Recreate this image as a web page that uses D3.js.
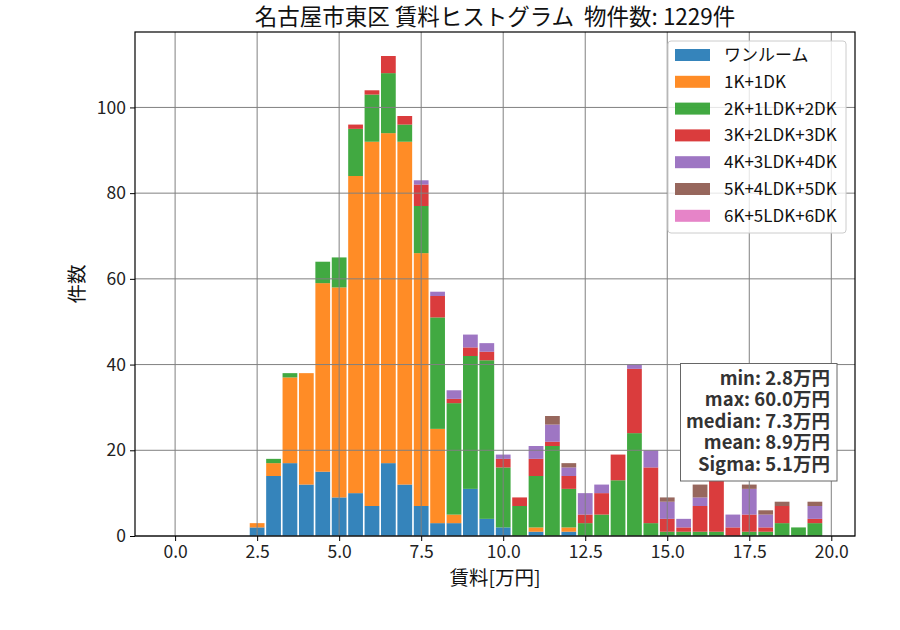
<!DOCTYPE html>
<html>
<head>
<meta charset="utf-8">
<script src="https://cdn.jsdelivr.net/npm/d3@7"></script>
<style>
  body { margin: 0; background: #fff; }
  svg { font-family: "Noto Sans CJK JP", "Noto Sans", sans-serif; }
</style>
</head>
<body>
<div id="chart"></div>
<script>
// bin start [万円], bars are drawn centred on it
const bins = [0.0, 0.5, 1.0, 1.5, 2.0, 2.5, 3.0, 3.5, 4.0, 4.5,
              5.0, 5.5, 6.0, 6.5, 7.0, 7.5, 8.0, 8.5, 9.0, 9.5,
              10.0, 10.5, 11.0, 11.5, 12.0, 12.5, 13.0, 13.5, 14.0, 14.5,
              15.0, 15.5, 16.0, 16.5, 17.0, 17.5, 18.0, 18.5, 19.0, 19.5];

const layouts = ["ワンルーム", "1K+1DK", "2K+1LDK+2DK", "3K+2LDK+3DK", "4K+3LDK+4DK", "5K+4LDK+5DK", "6K+5LDK+6DK"];

const oneRoom = [0, 0, 0, 0, 0, 2, 14, 17, 12, 15, 9, 10, 7, 17, 12, 7, 3, 3, 11, 4,
                 2, 0, 1, 0, 1, 0, 0, 0, 0, 0, 0, 0, 0, 0, 0, 0, 0, 0, 0, 0];
const k1 = [0, 0, 0, 0, 0, 1, 3, 20, 26, 44, 49, 74, 85, 77, 80, 59, 22, 2, 0, 0,
            0, 0, 1, 0, 1, 0, 0, 0, 0, 0, 0, 0, 0, 0, 0, 0, 0, 0, 0, 0];
const k2 = [0, 0, 0, 0, 0, 0, 1, 1, 0, 5, 7, 11, 11, 14, 4, 11, 26, 26, 31, 37,
            14, 7, 12, 21, 9, 3, 5, 13, 24, 3, 1, 1, 1, 1, 0, 1, 1, 3, 2, 3];
const k3 = [0, 0, 0, 0, 0, 0, 0, 0, 0, 0, 0, 1, 1, 4, 2, 5, 5, 1, 2, 2,
            2, 2, 4, 1, 3, 2, 5, 6, 15, 13, 3, 1, 6, 16, 2, 4, 1, 4, 0, 1];
const k4 = [0, 0, 0, 0, 0, 0, 0, 0, 0, 0, 0, 0, 0, 0, 0, 1, 1, 2, 3, 2,
            1, 0, 3, 4, 2, 5, 2, 0, 1, 4, 4, 2, 2, 0, 3, 6, 3, 0, 0, 3];
const k5 = [0, 0, 0, 0, 0, 0, 0, 0, 0, 0, 0, 0, 0, 0, 0, 0, 0, 0, 0, 0,
            0, 0, 0, 2, 1, 0, 0, 0, 0, 0, 1, 0, 3, 0, 0, 1, 1, 1, 0, 1];
const k6 = [0, 0, 0, 0, 0, 0, 0, 0, 0, 0, 0, 0, 0, 0, 0, 0, 0, 0, 0, 0,
            0, 0, 0, 0, 0, 0, 0, 0, 0, 0, 0, 0, 0, 0, 0, 0, 0, 0, 0, 0];

const xTicks = [0, 2.5, 5, 7.5, 10, 12.5, 15, 17.5, 20];
const yTicks = [0, 20, 40, 60, 80, 100];
const statsLines = ["min: 2.8万円", "max: 60.0万円", "median: 7.3万円", "mean: 8.9万円", "Sigma: 5.1万円"];

const colors = ["#1f77b4", "#ff7f0e", "#2ca02c", "#d62728", "#9467bd", "#8c564b", "#e377c2"];

const W = 900, H = 630;
const margin = { top: 32, right: 45, bottom: 94, left: 135 };

const svg = d3.select("#chart").append("svg")
  .attr("width", W).attr("height", H);

const x = d3.scaleLinear().domain([-1.2225, 20.7225]).range([margin.left, W - margin.right]);
const y = d3.scaleLinear().domain([0, 117.6]).range([H - margin.bottom, margin.top]);

// build rows for stacking
const series = [oneRoom, k1, k2, k3, k4, k5, k6];
const rows = bins.map((b, i) => {
  const r = { bin: b };
  layouts.forEach((l, j) => r[l] = series[j][i]);
  return r;
});
const stacked = d3.stack().keys(layouts)(rows);

const barW = 0.45; // rwidth 0.9 of 0.5 bins

svg.append("g")
  .selectAll("g")
  .data(stacked)
  .enter().append("g")
  .attr("fill", (d, i) => colors[i])
  .attr("fill-opacity", 0.9)
  .selectAll("rect")
  .data(d => d.filter(s => s[1] > s[0]))
  .enter().append("rect")
  .attr("x", d => x(d.data.bin - barW / 2))
  .attr("width", d => x(d.data.bin + barW / 2) - x(d.data.bin - barW / 2))
  .attr("y", d => y(d[1]))
  .attr("height", d => y(d[0]) - y(d[1]));

// grid (on top of bars like matplotlib default)
const grid = svg.append("g").attr("stroke", "#808080").attr("stroke-width", 1);
grid.selectAll(".gx").data(xTicks).enter().append("line")
  .attr("x1", d => x(d)).attr("x2", d => x(d))
  .attr("y1", margin.top).attr("y2", H - margin.bottom);
grid.selectAll(".gy").data(yTicks).enter().append("line")
  .attr("x1", margin.left).attr("x2", W - margin.right)
  .attr("y1", d => y(d)).attr("y2", d => y(d));

// axes
const xAxis = svg.append("g")
  .attr("transform", `translate(0,${H - margin.bottom})`)
  .call(d3.axisBottom(x).tickValues(xTicks).tickFormat(d3.format(".1f")).tickSize(5).tickPadding(5));
const yAxis = svg.append("g")
  .attr("transform", `translate(${margin.left},0)`)
  .call(d3.axisLeft(y).tickValues(yTicks).tickSize(5).tickPadding(4));
[xAxis, yAxis].forEach(a => {
  a.select(".domain").remove();
  a.selectAll("text").attr("font-size", 17.5).attr("fill", "#222").attr("font-family", "Noto Sans CJK JP");
  a.selectAll("line").attr("stroke", "#000");
});

// frame
svg.append("rect")
  .attr("x", margin.left).attr("y", margin.top)
  .attr("width", W - margin.left - margin.right)
  .attr("height", H - margin.top - margin.bottom)
  .attr("fill", "none").attr("stroke", "#000").attr("stroke-width", 1.2);

// title and labels
svg.append("text")
  .attr("x", (margin.left + W - margin.right) / 2).attr("y", 25)
  .attr("text-anchor", "middle").attr("font-size", 22.5).attr("fill", "#111")
  .text("名古屋市東区 賃料ヒストグラム  物件数: 1229件")
  .style("white-space", "pre");

svg.append("text")
  .attr("x", (margin.left + W - margin.right) / 2).attr("y", 585)
  .attr("text-anchor", "middle").attr("font-size", 19.5).attr("fill", "#111")
  .text("賃料[万円]");

svg.append("text")
  .attr("transform", `translate(84,${(margin.top + H - margin.bottom) / 2}) rotate(-90)`)
  .attr("text-anchor", "middle").attr("font-size", 19.5).attr("fill", "#111")
  .text("件数");

// legend
const lg = svg.append("g").attr("transform", "translate(668,41)");
lg.append("rect")
  .attr("width", 178).attr("height", 192).attr("rx", 3)
  .attr("fill", "#fff").attr("fill-opacity", 0.8)
  .attr("stroke", "#ccc").attr("stroke-width", 1);
const li = lg.selectAll(".li").data(layouts).enter().append("g")
  .attr("transform", (d, i) => `translate(0,${14 + i * 26.8})`);
li.append("rect")
  .attr("x", 7).attr("y", -6).attr("width", 35).attr("height", 12)
  .attr("fill", (d, i) => colors[i]).attr("fill-opacity", 0.9);
li.append("text")
  .attr("x", 56).attr("y", 6).attr("font-size", 17).attr("fill", "#111")
  .text(d => d);

// stats box
const sb = svg.append("g");
sb.append("rect")
  .attr("x", 680.5).attr("y", 363.5).attr("width", 156.5).attr("height", 117.5)
  .attr("fill", "#fff").attr("stroke", "#666").attr("stroke-width", 1);
sb.selectAll("text").data(statsLines).enter().append("text")
  .attr("x", 830).attr("y", (d, i) => 385 + i * 21.4)
  .attr("text-anchor", "end").attr("font-size", 18.5).attr("font-weight", "bold")
  .attr("fill", "#333")
  .text(d => d);
</script>
</body>
</html>
